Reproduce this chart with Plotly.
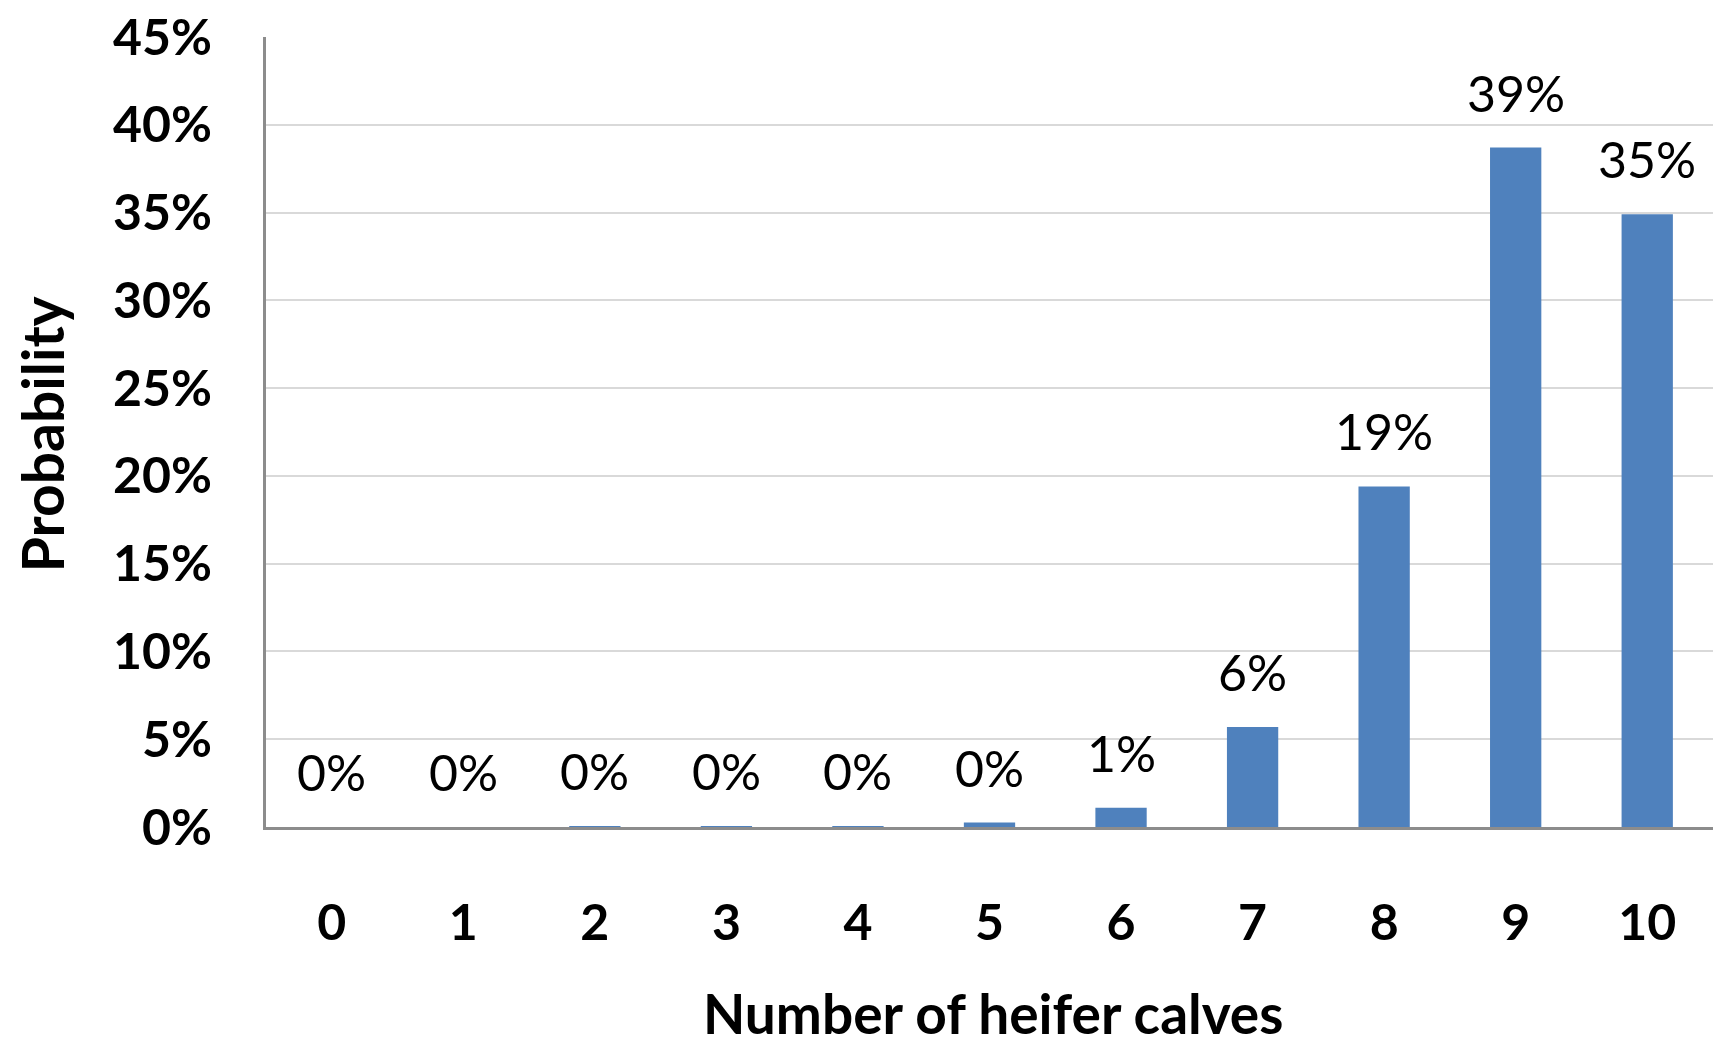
import plotly.graph_objects as go

# Probability of each count of heifer calves out of 10 births
calves = [0, 1, 2, 3, 4, 5, 6, 7, 8, 9, 10]
probability = [0.0, 0.0, 0.0003, 0.0003, 0.0003, 0.0025, 0.011, 0.057, 0.194, 0.387, 0.349]
labels = ["0%", "0%", "0%", "0%", "0%", "0%", "1%", "6%", "19%", "39%", "35%"]
y_ticks = [0, 0.05, 0.10, 0.15, 0.20, 0.25, 0.30, 0.35, 0.40, 0.45]
y_tick_text = ["0%", "5%", "10%", "15%", "20%", "25%", "30%", "35%", "40%", "45%"]

FONT = "Lato"
BLUE = "#4F81BD"

fig = go.Figure()
fig.add_trace(go.Bar(
    x=calves,
    y=probability,
    marker=dict(color=BLUE, line=dict(width=0)),
    width=0.39,
    hoverinfo="x+y",
))

# Value labels above each bar
for xv, yv, lab in zip(calves, probability, labels):
    fig.add_annotation(
        x=xv, y=yv, text=lab, showarrow=False,
        xref="x", yref="y", yanchor="middle", yshift=55,
        font=dict(family=FONT, size=50, color="#000000"),
    )

# Axis titles
fig.add_annotation(
    x=0.5024, y=0, xref="paper", yref="paper",
    text="<b>Number of heifer calves</b>", showarrow=False,
    xanchor="center", yanchor="middle", yshift=-186,
    font=dict(family=FONT, size=55, color="#000000"),
)
fig.add_annotation(
    x=-0.1548, y=0.497, xref="paper", yref="paper",
    text="<b>Probability</b>", showarrow=False, textangle=-90,
    xanchor="center", yanchor="middle",
    font=dict(family=FONT, size=57, color="#000000"),
)

fig.update_layout(
    width=1718, height=1049,
    margin=dict(l=266, r=5, t=34, b=222),
    paper_bgcolor="white", plot_bgcolor="white",
    showlegend=False,
    font=dict(family=FONT, color="#000000"),
)
fig.update_xaxes(
    range=[-0.5, 10.5],
    tickmode="array", tickvals=calves, ticktext=[str(c) for c in calves],
    tickfont=dict(family=FONT, size=50, color="#000000", weight="bold"),
    showgrid=False, zeroline=False,
    showline=True, linecolor="#8c8c8c", linewidth=3,
    ticks="", ticklabelstandoff=50,
)
fig.update_yaxes(
    range=[0, 0.45],
    tickmode="array", tickvals=y_ticks, ticktext=y_tick_text,
    tickfont=dict(family=FONT, size=50, color="#000000", weight="bold"),
    showgrid=True, gridcolor="#d9d9d9", gridwidth=2,
    zeroline=False,
    showline=True, linecolor="#8c8c8c", linewidth=3,
    ticks="", ticklabelstandoff=41,
)

fig.write_html("out.html")
